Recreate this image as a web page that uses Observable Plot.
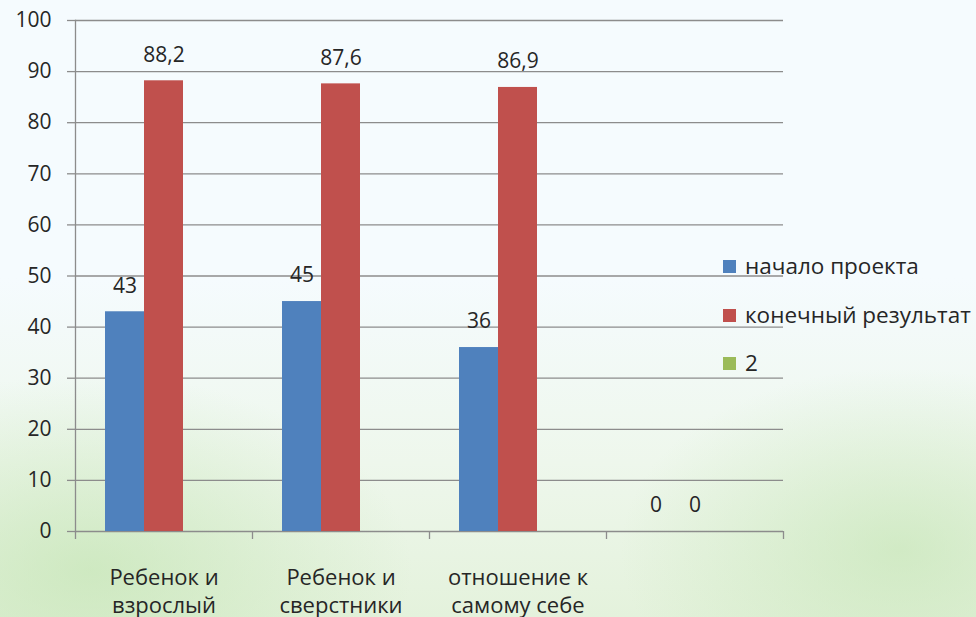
<!DOCTYPE html>
<html><head><meta charset="utf-8">
<script src="https://cdn.jsdelivr.net/npm/d3@7"></script>
<script src="https://cdn.jsdelivr.net/npm/@observablehq/plot@0.6"></script>
<style>
body{margin:0;}
#wrap{position:relative;width:976px;height:617px;overflow:hidden;font-family:"Open Sans",sans-serif;color:#262626;
background:
 radial-gradient(ellipse 460px 280px at 90px 570px, rgba(190,226,172,0.6), rgba(190,226,172,0) 70%),
 radial-gradient(ellipse 400px 260px at 900px 550px, rgba(190,226,172,0.55), rgba(190,226,172,0) 70%),
 linear-gradient(#f5fbfe 0%, #f5fbfe 45%, #eef7ec 75%, #e4f2dc 100%);}
#legend{position:absolute;left:723px;top:0;}
.li{position:absolute;white-space:nowrap;font-size:22.5px;line-height:22px;}
.sw{position:absolute;width:13px;height:13px;left:0;}
.lt{position:absolute;left:22px;}
svg{background:transparent;}
</style></head><body><div id="wrap"><div id="legend"></div></div>
<script>
const categories = ["Ребенок и\nвзрослый", "Ребенок и\nсверстники", "отношение к\nсамому себе", " "];
const series = ["начало проекта", "конечный результат", "2"];
const colors = ["#4F81BD", "#C0504D", "#9BBB59"];
const startValues = [43, 45, 36, 0];
const resultValues = [88.2, 87.6, 86.9, 0];
const thirdValues = [null, null, null, null];
const yTicks = [0, 10, 20, 30, 40, 50, 60, 70, 80, 90, 100];

const W = 976, H = 617, mL = 75, mR = 193, mT = 20, mB = 86;
const step = (W - mL - mR) / categories.length;

const data = [];
categories.forEach((c, i) => {
  data.push({cat: c, s: series[0], v: startValues[i]});
  data.push({cat: c, s: series[1], v: resultValues[i]});
  data.push({cat: c, s: series[2], v: thirdValues[i]});
});
const fmt = v => String(v).replace(".", ",");

const grid = "#8c8c8c";
const chart = Plot.plot({
  width: W, height: H,
  marginLeft: mL, marginRight: mR, marginTop: mT, marginBottom: mB,
  style: {fontFamily: "Open Sans", color: "#262626", background: "transparent"},
  fx: {domain: categories, padding: 0, label: null},
  x: {domain: series, paddingInner: 0, paddingOuter: 0.75, axis: null},
  y: {domain: [0, 100], axis: null},
  color: {domain: series, range: colors},
  marks: [
    Plot.ruleY(yTicks, {stroke: grid, strokeWidth: 1.3}),
    Plot.frame({anchor: "left", facetAnchor: "left", stroke: grid, strokeWidth: 1.3}),
    Plot.axisY({ticks: yTicks, tickSize: 8, tickPadding: 16, fontSize: 21, stroke: grid, strokeWidth: 1.3, label: null, facetAnchor: "left"}),
    Plot.barY(data.filter(d => d.v != null), {fx: "cat", x: "s", y: "v", fill: "s"}),
    Plot.text(data.filter(d => d.v != null), {fx: "cat", x: "s", y: "v", text: d => fmt(d.v), dy: -26, lineAnchor: "middle", fontSize: 21, fill: "#262626"}),
    Plot.axisFx({anchor: "bottom", tickSize: 8, tickFormat: () => "", dx: -step / 2, stroke: grid, strokeWidth: 1.3, label: null}),
    Plot.axisFx({anchor: "bottom", ticks: [categories[categories.length - 1]], tickSize: 8, tickFormat: () => "", dx: step / 2, stroke: grid, strokeWidth: 1.3, label: null}),
    Plot.axisFx({anchor: "bottom", tickSize: 0, tickPadding: 33, fontSize: 22, lineHeight: 1.28, label: null})
  ]
});
chart.style.position = "absolute";
chart.style.left = "0px";
chart.style.top = "0px";
document.getElementById("wrap").appendChild(chart);

const legend = document.getElementById("legend");
const ly = [266, 315, 363];
series.forEach((s, i) => {
  const el = document.createElement("div");
  el.className = "li";
  el.style.top = (ly[i] - 11) + "px";
  el.innerHTML = `<div class="sw" style="background:${colors[i]};top:5px"></div><div class="lt">${s}</div>`;
  legend.appendChild(el);
});
</script>
</body></html>
